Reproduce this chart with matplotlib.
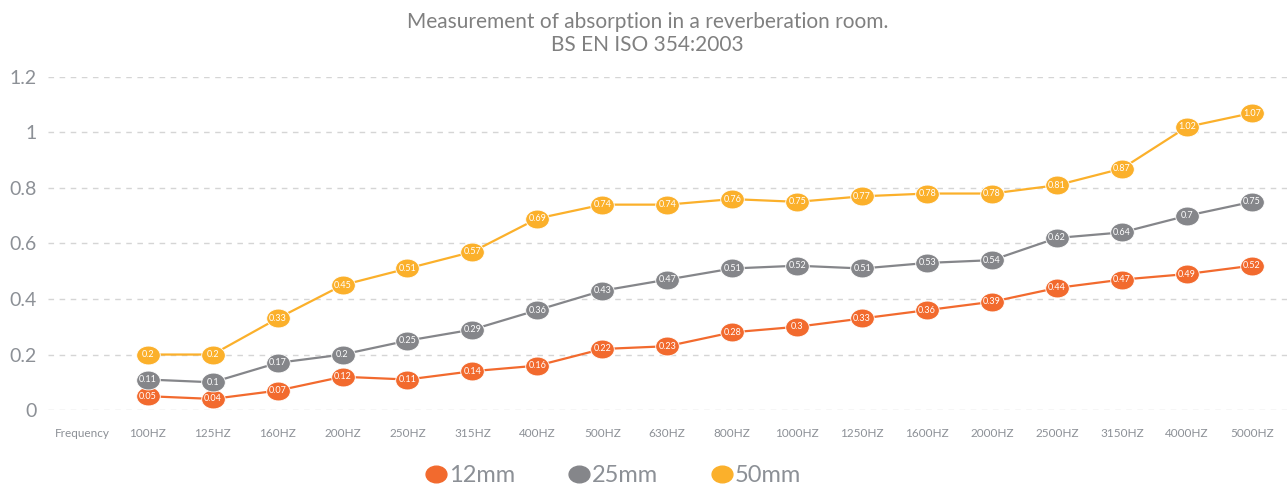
import numpy as np
import matplotlib.pyplot as plt
from matplotlib.path import Path
from matplotlib.transforms import Affine2D
from matplotlib.lines import Line2D

plt.rcParams['font.family'] = ['Lato', 'DejaVu Sans']

# Data
categories = ["Frequency", "100HZ", "125HZ", "160HZ", "200HZ", "250HZ", "315HZ", "400HZ",
              "500HZ", "630HZ", "800HZ", "1000HZ", "1250HZ", "1600HZ", "2000HZ",
              "2500HZ", "3150HZ", "4000HZ", "5000HZ"]
mm12 = [0.05, 0.04, 0.07, 0.12, 0.11, 0.14, 0.16, 0.22, 0.23, 0.28, 0.3, 0.33, 0.36, 0.39,
        0.44, 0.47, 0.49, 0.52]
mm25 = [0.11, 0.1, 0.17, 0.2, 0.25, 0.29, 0.36, 0.43, 0.47, 0.51, 0.52, 0.51, 0.53, 0.54,
        0.62, 0.64, 0.7, 0.75]
mm50 = [0.2, 0.2, 0.33, 0.45, 0.51, 0.57, 0.69, 0.74, 0.74, 0.76, 0.75, 0.77, 0.78, 0.78,
        0.81, 0.87, 1.02, 1.07]
series_names = ["12mm", "25mm", "50mm"]
colors = ["#F26A2E", "#85868A", "#FBB02B"]
text_gray = "#8C9096"

# ellipse marker
ellipse = Path.unit_circle().transformed(Affine2D().scale(1.25, 1.0))

fig = plt.figure(figsize=(12.87, 4.87), dpi=100)
ax = fig.add_axes([0.037, 0.158, 0.963, 0.684])

x = np.arange(1, len(categories))
for vals, c in zip([mm12, mm25, mm50], colors):
    ax.plot(x, vals, color=c, lw=1.6, marker=ellipse, markersize=17,
            markeredgecolor='white', markeredgewidth=0.6, clip_on=False, zorder=3)
    for xi, v in zip(x, vals):
        ax.text(xi, v, f"{v:g}", color='white', fontsize=6.5, ha='center', va='center',
                zorder=4)

ax.set_xlim(-0.54, 18.54)
ax.set_ylim(0, 1.2)
ax.set_yticks(np.arange(0, 1.21, 0.2))
ax.set_yticklabels(["0", "0.2", "0.4", "0.6", "0.8", "1", "1.2"])
ax.set_xticks(np.arange(len(categories)))
ax.set_xticklabels(categories)
ax.tick_params(axis='y', length=0, labelsize=14, labelcolor=text_gray, pad=8)
ax.tick_params(axis='x', length=0, labelsize=8.5, labelcolor=text_gray, pad=13)
ax.yaxis.grid(True, color='#D5D5D5', linestyle=(0, (4, 4)), lw=1)
ax.set_axisbelow(True)
for s in ax.spines.values():
    s.set_visible(False)

fig.text(0.503, 0.975, "Measurement of absorption in a reverberation room.\nBS EN ISO 354:2003",
         ha='center', va='top', fontsize=15, color='#808080', linespacing=1.15)

handles = [Line2D([], [], ls='none', marker=ellipse, markersize=15, color=c) for c in colors]
leg = fig.legend(handles, series_names, loc='center', ncol=3, frameon=False,
                 bbox_to_anchor=(0.476, 0.024), fontsize=17, handletextpad=0.05,
                 columnspacing=2.2, handlelength=1.0)
for t in leg.get_texts():
    t.set_color(text_gray)

plt.savefig("out.png", dpi=100)
